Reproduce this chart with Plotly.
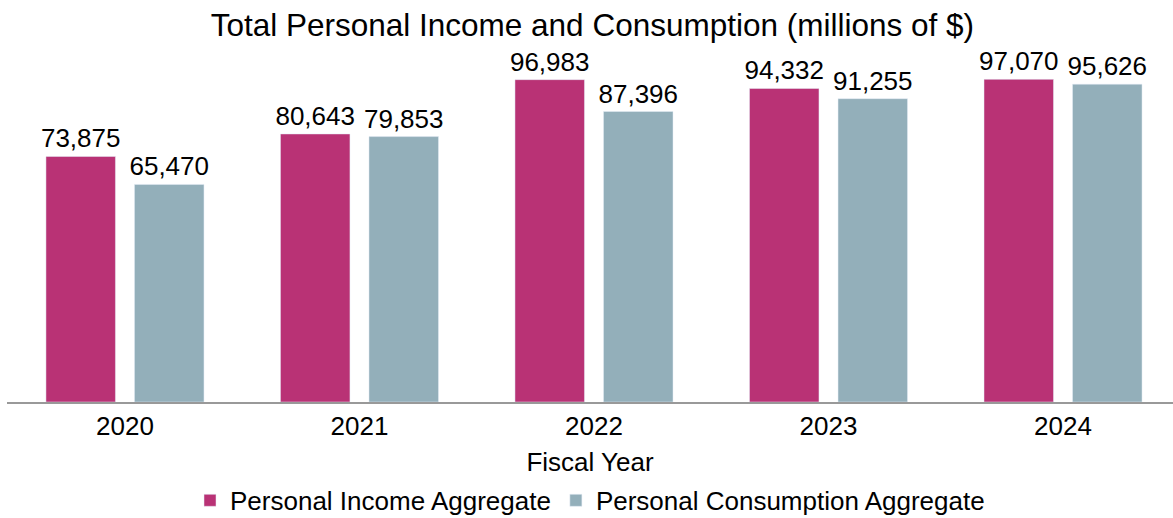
import plotly.graph_objects as go

years = ["2020", "2021", "2022", "2023", "2024"]
income = [73875, 80643, 96983, 94332, 97070]
consumption = [65470, 79853, 87396, 91255, 95626]

FONT = "Liberation Sans, Arial, Helvetica, sans-serif"
PINK = "#B93275"
TEAL = "#93AFBA"

fig = go.Figure()
fig.add_trace(go.Bar(
    x=years, y=income, name="Personal Income Aggregate",
    marker=dict(color=PINK),
    text=[f"{v:,}" for v in income], textposition="outside",
    textfont=dict(size=26, color="black", family=FONT),
    constraintext="none", cliponaxis=False,
))
fig.add_trace(go.Bar(
    x=years, y=consumption, name="Personal Consumption Aggregate",
    marker=dict(color=TEAL),
    text=[f"{v:,}" for v in consumption], textposition="outside",
    textfont=dict(size=26, color="black", family=FONT),
    constraintext="none", cliponaxis=False,
))

fig.update_layout(
    width=1173, height=518,
    margin=dict(l=7, r=0, t=53, b=116, autoexpand=False),
    paper_bgcolor="white", plot_bgcolor="white",
    font=dict(family=FONT, size=26, color="black"),
    title=dict(text="Total Personal Income and Consumption (millions of $)",
               x=0.505, xanchor="center", y=0.952, yanchor="middle",
               yref="container", font=dict(size=31.5, color="black")),
    barmode="group", bargap=0.245, bargroupgap=0.215,
    legend=dict(orientation="h", x=0.5, xanchor="center",
                yref="container", y=0.034, yanchor="middle",
                font=dict(size=26), itemclick=False),
    showlegend=True,
)
fig.update_xaxes(
    type="category", range=[-0.503, 4.469],
    showline=True, linecolor="#999999", linewidth=2,
    showgrid=False, ticks="", tickfont=dict(size=26),
    title=dict(text="Fiscal Year", font=dict(size=26), standoff=20),
)
fig.update_yaxes(range=[0, 105000], visible=False, showgrid=False)

fig.write_html("out.html")
